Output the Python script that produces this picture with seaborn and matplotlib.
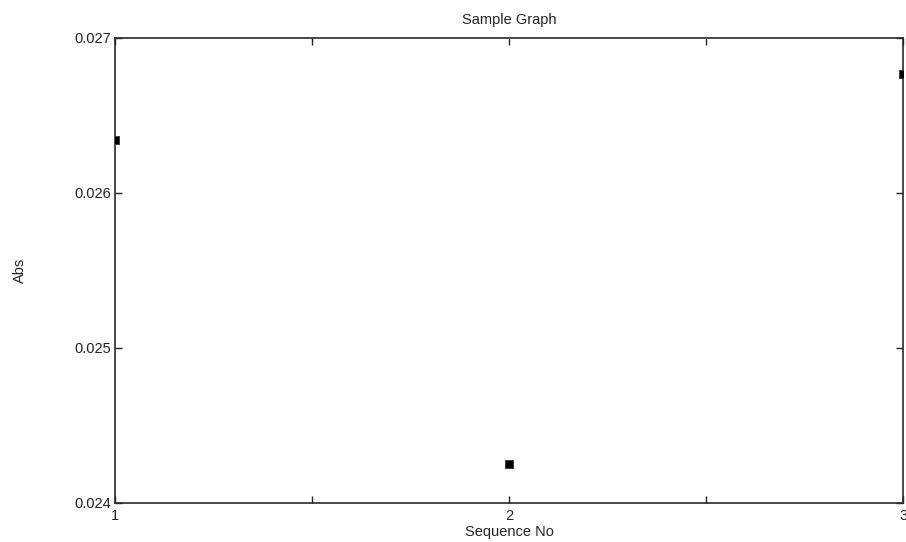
import matplotlib
matplotlib.use("Agg")
import matplotlib.pyplot as plt
import seaborn as sns
import pandas as pd

# Data
sequence_no = [1, 2, 3]
abs_values = [0.02634, 0.02425, 0.02677]
x_ticks = [1, 1.5, 2, 2.5, 3]
x_tick_labels = ["1", "", "2", "", "3"]
y_ticks = [0.024, 0.025, 0.026, 0.027]
y_tick_labels = ["0.024", "0.025", "0.026", "0.027"]

sns.set_style("ticks")
plt.rcParams["font.family"] = ["Liberation Sans", "DejaVu Sans"]

df = pd.DataFrame({"Sequence No": sequence_no, "Abs": abs_values})

fig = plt.figure(figsize=(9.06, 5.42), dpi=100)
ax = fig.add_axes([0.127, 0.072, 0.870, 0.858])

sns.scatterplot(data=df, x="Sequence No", y="Abs", ax=ax, marker="s",
                color="black", s=38, edgecolor="#333333", linewidth=0.6,
                zorder=3)

ax.set_xlim(1, 3)
ax.set_ylim(0.024, 0.027)
ax.set_xticks(x_ticks)
ax.set_xticklabels(x_tick_labels)
ax.set_yticks(y_ticks)
ax.set_yticklabels(y_tick_labels)

ax.tick_params(axis="both", direction="in", length=5, width=1.0,
               color="#222222", labelsize=10.5, labelcolor="#222222",
               top=True, right=True)
ax.tick_params(axis="x", pad=4)
ax.tick_params(axis="y", pad=3)

for side in ["left", "right", "top", "bottom"]:
    ax.spines[side].set_visible(True)
    ax.spines[side].set_linewidth(1.2)
    ax.spines[side].set_color("#2a2a2a")

ax.set_title("Sample Graph", fontsize=10.5, color="#222222", pad=10)
ax.set_xlabel("Sequence No", fontsize=10.5, color="#222222", labelpad=2)
ax.set_ylabel("Abs", fontsize=10.5, color="#222222")
ax.yaxis.set_label_coords(-0.112, 0.5)

fig.savefig("out.png", dpi=100, facecolor="white")
